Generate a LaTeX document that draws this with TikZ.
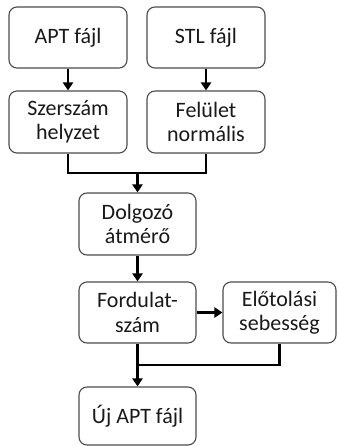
\documentclass[tikz,border=0pt]{standalone}
\usepackage{fontspec}
\setmainfont{Carlito}
\usetikzlibrary{arrows.meta,calc}
\begin{document}
\begin{tikzpicture}[x=1pt,y=-1pt,
  box/.style={draw=black!70,line width=1.1pt,rounded corners=8pt,minimum width=118pt,minimum height=61pt,
    align=center,font=\fontsize{22}{24.5}\selectfont,text=black!90,inner sep=0pt},
  conn/.style={line width=2.8pt,line join=miter},
  arr/.style={conn,-{Triangle[width=10pt,length=8pt]}}]
\useasboundingbox (0,0) rectangle (337,446);
\node[box] (apt) at (68,37.5) {APT fájl};
\node[box] (stl) at (206,37.5) {STL fájl};
\node[box,minimum height=62pt] (szer) at (68,122) {Szerszám\\helyzet};
\node[box,minimum height=62pt] (fel) at (206,122) {Felület\\normális};
\node[box,minimum width=117pt,minimum height=62pt] (dolg) at (137.5,224) {Dolgozó\\átmérő};
\node[box,minimum width=117pt] (ford) at (137.5,312.5) {Fordulat-\\szám};
\node[box,minimum width=113pt] (elo) at (279.5,312.5) {Előtolási\\sebesség};
\node[box,minimum width=117pt,minimum height=58pt] (uj) at (137.5,416) {Új APT fájl};
\coordinate (m1) at (137.5,173);
\coordinate (m2) at (137.5,365);
\draw[arr] (apt) -- (szer);
\draw[arr] (stl) -- (fel);
\draw[conn] (szer.south) |- (m1) -| (fel.south);
\draw[arr] (m1) -- (dolg.north);
\draw[arr] (dolg) -- (ford);
\draw[arr] (ford) -- (elo);
\draw[conn] (elo.south) |- (m2);
\draw[arr] (ford.south) -- (uj.north);
\end{tikzpicture}
\end{document}
